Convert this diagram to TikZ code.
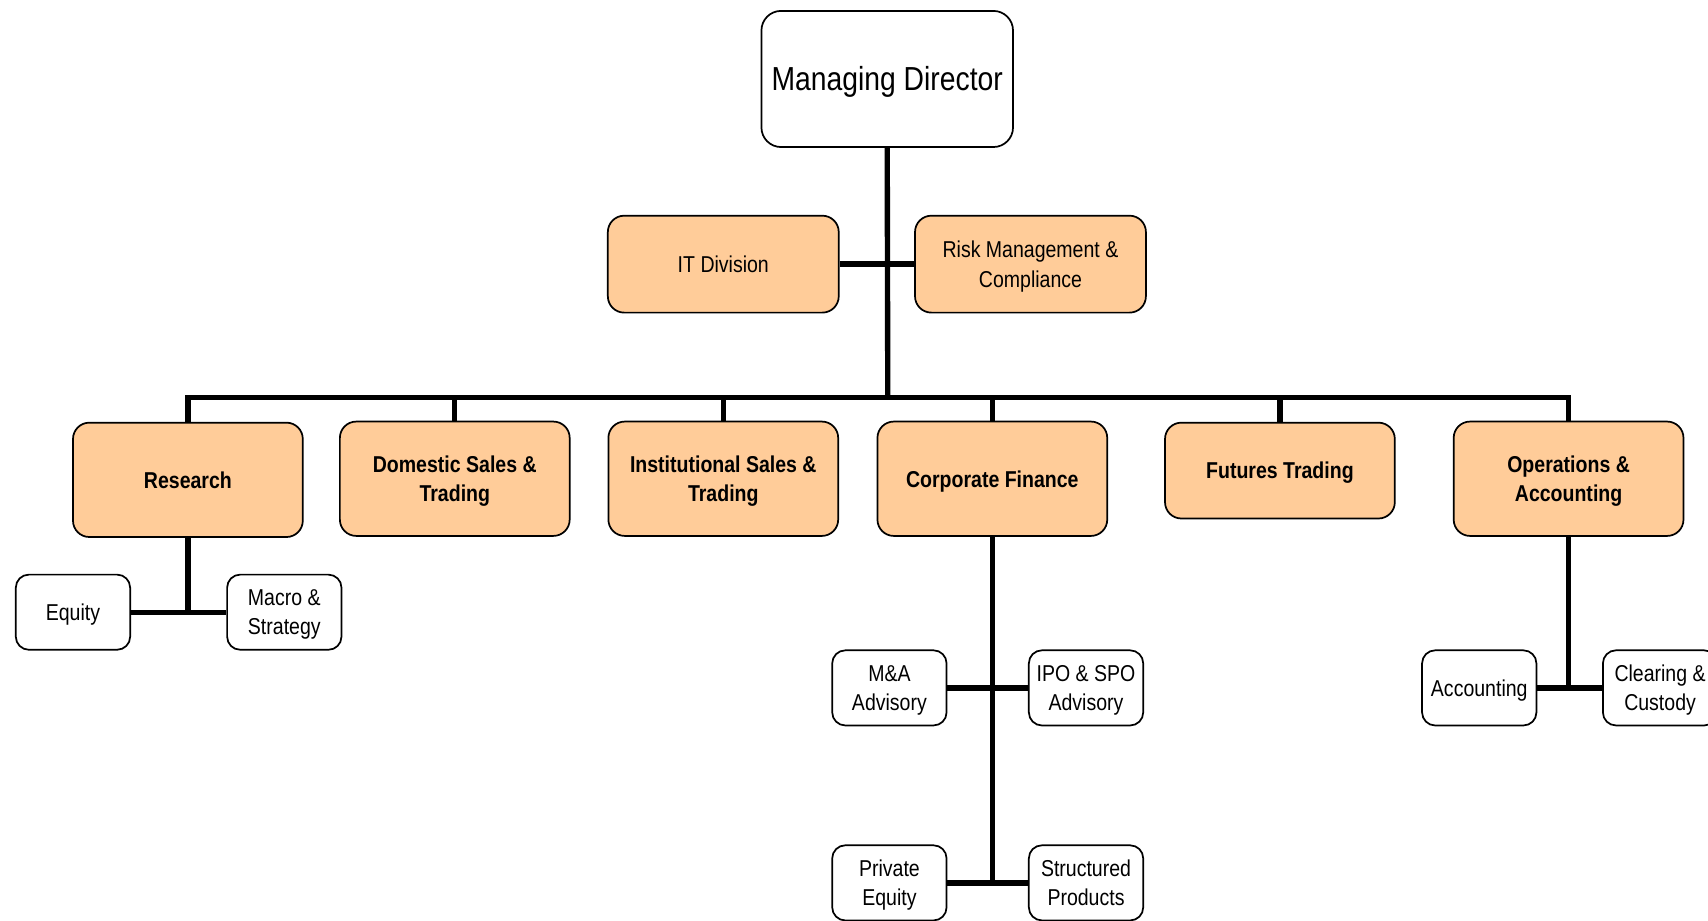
\documentclass[tikz,border=0pt]{standalone}
\usepackage{fontspec}
\setmainfont{Liberation Sans}[FakeStretch=0.85]
\definecolor{peach}{HTML}{FFCC99}
\tikzset{
	box/.style={draw,line width=0.9pt,align=center,inner sep=0pt,text depth=-1.2pt},
	mdbox/.style={box,rounded corners=0.36cm,minimum width=4.62cm,minimum height=2.5cm,font=\fontsize{17.4}{20}\selectfont,text depth=0.3pt},
	staffbox/.style={box,fill=peach,rounded corners=0.3cm,minimum width=4.24cm,minimum height=1.78cm,font=\fontsize{12}{15.4}\selectfont},
	deptbox/.style={box,fill=peach,rounded corners=0.3cm,minimum width=4.22cm,font=\bfseries\fontsize{12}{15.4}\selectfont},
	leafbox/.style={box,rounded corners=0.24cm,minimum width=2.1cm,minimum height=1.38cm,font=\fontsize{12}{15}\selectfont},
	link/.style={line width=2.8pt}
}
\begin{document}
\begin{tikzpicture}[x=0.02cm,y=-0.02cm]
	\useasboundingbox (0,0) rectangle (1568,845);
	\clip (0,0) rectangle (1568,845);
	\node[mdbox] (MD) at (814.5,72.5) {Managing Director};
	\node[staffbox] (IT) at (664,242.5) {IT Division};
	\node[staffbox] (Risk) at (946,242.5) {Risk Management \&\\Compliance};
	\foreach \x/\y/\h/\t [count=\n] in {172.5/440.5/2.1cm/Research,417.5/439.5/2.1cm/{Domestic Sales \&\\Trading},664/439.5/2.1cm/{Institutional Sales \&\\Trading},911/439.5/2.1cm/Corporate Finance,1175/432/1.76cm/Futures Trading,1440/439.5/2.1cm/{Operations \&\\Accounting}}
		\node[deptbox,minimum height=\h] (D\n) at (\x,\y) {\t};
	\node[leafbox] (Equity) at (67,562) {Equity};
	\node[leafbox] (Macro) at (261,562) {Macro \&\\Strategy};
	\node[leafbox] (MA) at (816.5,631.5) {M\&A\\Advisory};
	\node[leafbox] (IPO) at (997,631.5) {IPO \& SPO\\Advisory};
	\node[leafbox] (PE) at (816.5,810.5) {Private\\Equity};
	\node[leafbox] (SP) at (997,810.5) {Structured\\Products};
	\node[leafbox] (Acc) at (1358,631.5) {Accounting};
	\node[leafbox] (Clear) at (1524,631.5) {Clearing \&\\Custody};
	\coordinate (bus) at (815,365);
	\draw[link] (MD.south) -- (bus);
	\draw[link] (IT.east) -- (Risk.west);
	\draw[link] (D1.north) -- (D1.north |- bus) -- (D6.north |- bus) -- (D6.north);
	\foreach \n in {2,...,5}
		\draw[link] (D\n.north) -- (D\n.north |- bus);
	\draw[link] (D1.south) -- (D1.south |- Equity.east);
	\draw[link] (Equity.east) -- (Macro.west);
	\draw[link] (D4.south) -- (D4.south |- PE.east);
	\draw[link] (MA.east) -- (IPO.west);
	\draw[link] (PE.east) -- (SP.west);
	\draw[link] (D6.south) -- (D6.south |- Acc.east);
	\draw[link] (Acc.east) -- (Clear.west);
\end{tikzpicture}
\end{document}
